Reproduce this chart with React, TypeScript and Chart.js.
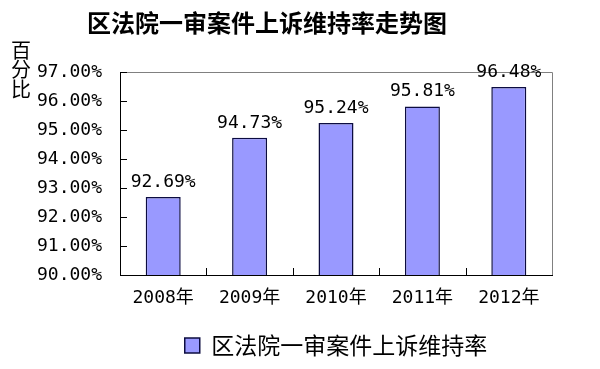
import React, { useEffect, useRef } from "react";
import { Chart, registerables } from "chart.js";

Chart.register(...registerables);

const TITLE = "区法院一审案件上诉维持率走势图";
const SERIES_LABEL = "区法院一审案件上诉维持率";
const Y_TITLE_CHARS = ["百", "分", "比"];
const CATEGORIES = ["2008年", "2009年", "2010年", "2011年", "2012年"];
const VALUES = [92.69, 94.73, 95.24, 95.81, 96.48];
const Y_MIN = 90;
const Y_MAX = 97;
const Y_STEP = 1;

const NUM_FONT = "'DejaVu Sans Mono', 'Noto Sans CJK SC', monospace";
const CJK_FONT = "'Noto Sans CJK SC', sans-serif";

const decorPlugin = {
  id: "decor",
  afterLayout(chart: any) {
    const lg = chart.legend;
    if (lg) {
      lg.left += 60;
      lg.right += 60;
    }
    const tb = chart.titleBlock;
    if (tb) {
      tb.left -= 9;
      tb.right -= 9;
    }
  },
  afterDatasetsDraw(chart: any) {
    const ctx = chart.ctx;
    const area = chart.chartArea;
    const xs = chart.scales.x;
    const ys = chart.scales.y;
    ctx.save();
    // gray top & right border
    ctx.strokeStyle = "#808080";
    ctx.lineWidth = 1;
    ctx.beginPath();
    ctx.moveTo(area.left, area.top + 0.5);
    ctx.lineTo(area.right + 0.5, area.top + 0.5);
    ctx.lineTo(area.right + 0.5, area.bottom);
    ctx.stroke();
    // inner tick marks
    ctx.strokeStyle = "#000";
    ctx.beginPath();
    ys.ticks.forEach((t: any, i: number) => {
      const py = Math.round(ys.getPixelForTick(i)) + 0.5;
      ctx.moveTo(area.left, py);
      ctx.lineTo(area.left + 7, py);
    });
    for (let i = 0; i < xs.ticks.length - 1; i++) {
      const px = Math.round((xs.getPixelForTick(i) + xs.getPixelForTick(i + 1)) / 2) + 0.5;
      ctx.moveTo(px, area.bottom);
      ctx.lineTo(px, area.bottom - 7);
    }
    ctx.stroke();
    // data labels
    ctx.fillStyle = "#000";
    ctx.font = `18px ${NUM_FONT}`;
    ctx.textAlign = "center";
    ctx.textBaseline = "middle";
    const meta = chart.getDatasetMeta(0);
    meta.data.forEach((bar: any, i: number) => {
      const v = chart.data.datasets[0].data[i] as number;
      ctx.fillText(v.toFixed(2) + "%", bar.x, bar.y - 15);
    });
    // vertical y-axis title
    ctx.font = `20px ${CJK_FONT}`;
    Y_TITLE_CHARS.forEach((ch, i) => {
      ctx.fillText(ch, 21, 50 + i * 19.5);
    });
    ctx.restore();
  },
};

export default function App() {
  const ref = useRef<HTMLCanvasElement>(null);
  useEffect(() => {
    if (!ref.current) return;
    const chart = new Chart(ref.current, {
      type: "bar",
      data: {
        labels: CATEGORIES,
        datasets: [
          {
            label: SERIES_LABEL,
            data: VALUES,
            backgroundColor: "#9999ff",
            borderColor: "#0c0c40",
            borderWidth: 1.5,
            barPercentage: 0.405,
            categoryPercentage: 1,
          },
        ],
      },
      options: {
        responsive: false,
        animation: false,
        layout: { padding: { left: 0, right: 48, top: 0, bottom: 2 } },
        plugins: {
          title: {
            display: true,
            text: TITLE,
            color: "#000",
            font: { family: CJK_FONT, size: 24, weight: "bold", lineHeight: 1.2 },
            padding: { top: 8, bottom: 35.2 },
          },
          legend: {
            display: true,
            position: "bottom",
            labels: {
              color: "#000",
              font: { family: CJK_FONT, size: 23 },
              boxWidth: 15,
              boxHeight: 15,
              padding: 11,
            },
          },
          tooltip: { enabled: false },
        },
        scales: {
          x: {
            grid: { display: false, drawTicks: false },
            border: { display: true, color: "#000", width: 1 },
            ticks: {
              color: "#000",
              font: { family: NUM_FONT, size: 18 },
              padding: 13,
              maxRotation: 0,
            },
            afterFit: (s: any) => {
              s.height = 48;
            },
          },
          y: {
            min: Y_MIN,
            max: Y_MAX,
            grid: { display: false, drawTicks: false },
            border: { display: true, color: "#000", width: 1 },
            ticks: {
              stepSize: Y_STEP,
              color: "#000",
              font: { family: NUM_FONT, size: 18 },
              padding: 18,
              callback: (v: any) => Number(v).toFixed(2) + "%",
            },
            afterFit: (s: any) => {
              s.width = 120;
            },
          },
        },
      },
      plugins: [decorPlugin],
    });
    return () => chart.destroy();
  }, []);
  return (
    <div style={{ position: "fixed", left: 0, top: 0, width: 600, height: 369, background: "#fff" }}>
      <canvas ref={ref} width={600} height={369} />
    </div>
  );
}
